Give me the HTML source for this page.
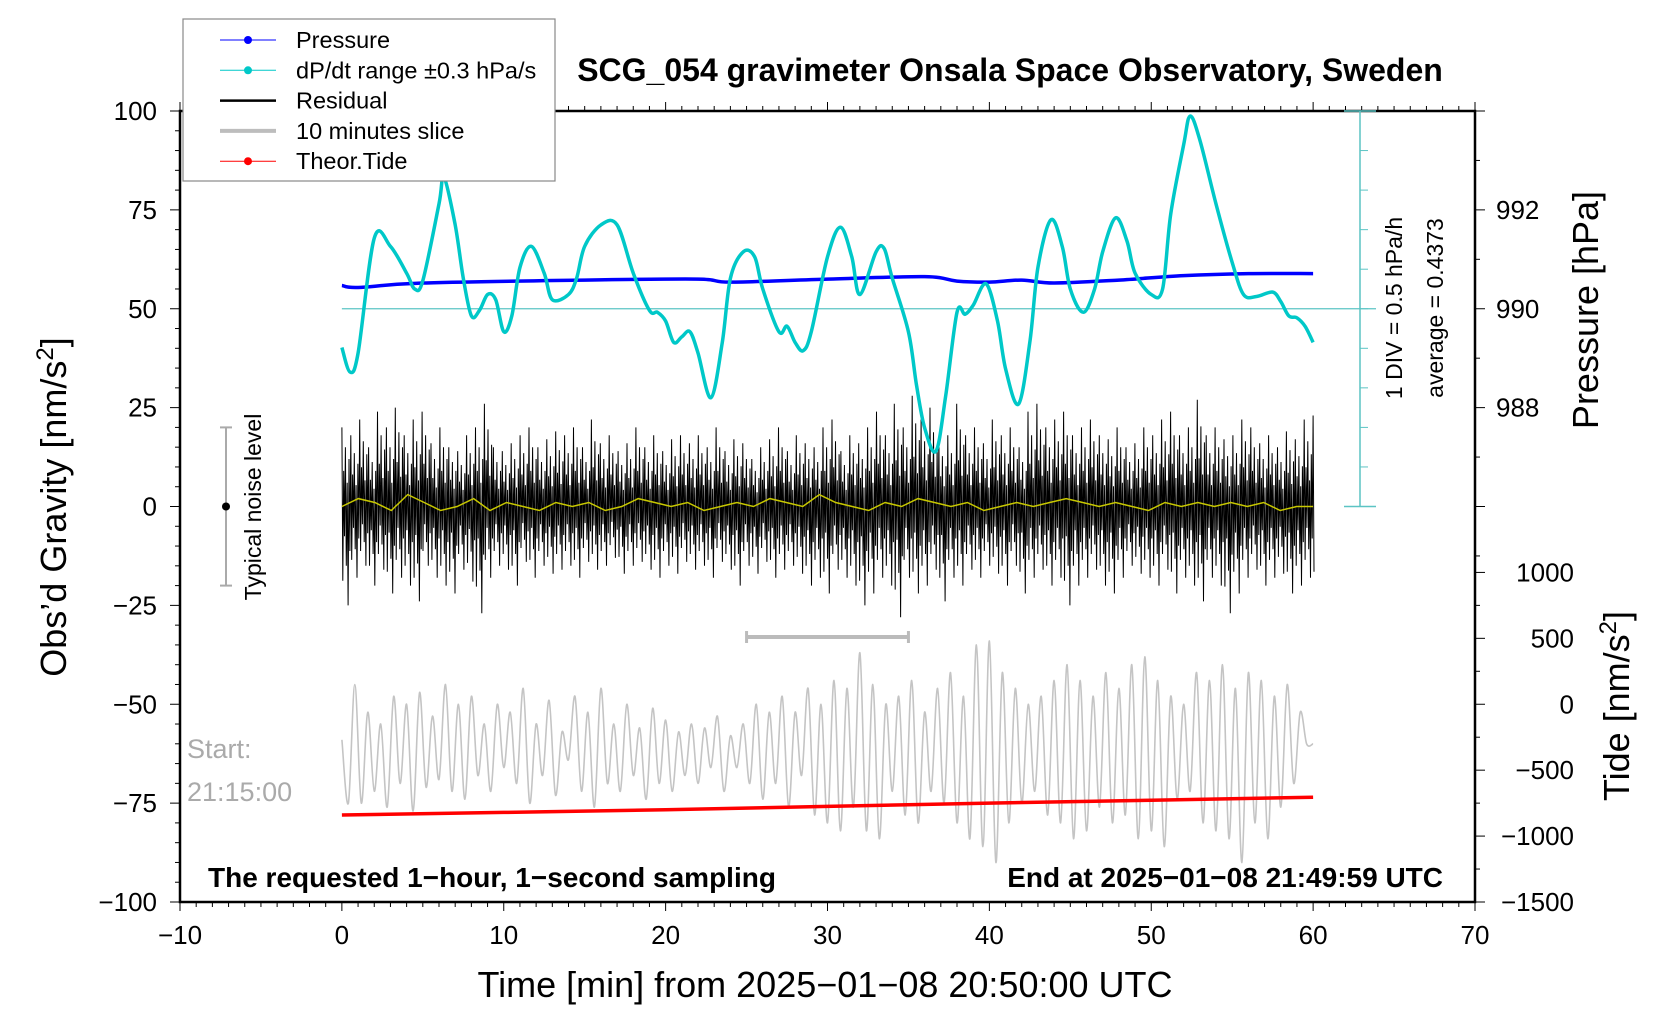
<!DOCTYPE html>
<html><head><meta charset="utf-8"><style>
html,body{margin:0;padding:0;background:#fff;}
svg{display:block;font-family:"Liberation Sans",sans-serif;}
</style></head><body>
<svg id="chart" width="1676" height="1020" viewBox="0 0 1676 1020" xmlns="http://www.w3.org/2000/svg">
<g id="axes"></g>
<g id="series"></g>
<g id="labels"></g>
</svg>
<script>
// ---- data ----
const xTicks = [-10,0,10,20,30,40,50,60,70];
const yTicks = [100,75,50,25,0,-25,-50,-75,-100];
const yTickLabels = ["100","75","50","25","0","\u221225","\u221250","\u221275","\u2212100"];
const pTicks = [992,990,988];
const tideTicks = [1000,500,0,-500,-1000,-1500];
const tideTickLabels = ["1000","500","0","\u2212500","\u22121000","\u22121500"];
const cyanMin = [0,0.5,1,2,3,4,4.5,5,6,6.3,7,7.5,8,8.5,9,9.5,10,10.5,11,11.7,12.5,13,14,14.5,15,16,17,18,19,19.5,20,20.5,21,21.5,22,22.8,23.5,24,24.8,25.5,26,27,27.5,28,28.5,29,30,30.8,31.5,32,33,33.5,34,35,35.5,36,36.7,37.3,38,38.5,39,39.8,40.5,41,41.8,42.5,43,43.8,44.5,45,45.8,46.5,47,47.8,48.5,49,50,50.7,51.2,52,52.4,53,54,55,55.7,56.5,57.5,58,58.5,59,59.5,60];
const cyanVal = [40.2,34,38.8,67.9,65.8,59,55,57.1,76.5,83.3,71.2,57.7,48.2,49.6,53.6,52.3,44.2,48.2,60.4,65.8,59,52.3,53.6,57.7,65.8,71.2,71.2,59,49.6,49.1,46.9,41.5,42.9,44.2,38.8,27.5,41.5,57.7,64.4,63.1,55,44.2,45.6,41.5,39.4,44.2,63.1,70.6,63.1,53.6,64.4,65.2,57.7,44.2,30.7,19.9,14,28,49.1,48.6,50.9,56.3,46.9,34.8,25.9,41.5,60.4,72.5,65.8,55,49.1,55,64.4,73,67.1,59,53.6,55,73.9,91.4,98.7,92.7,76.5,61.7,53.6,53.1,54.2,51.8,48.2,47.7,45.6,41.5];
const presMin = [0,1,5,15,22,24,30,36,38,40,42,44,48,52,56,60];
const presVal = [990.47,990.43,990.52,990.58,990.6,990.54,990.6,990.65,990.56,990.54,990.58,990.52,990.58,990.67,990.71,990.71];
const tideMin = [0,10,20,30,40,50,60];
const tideVal = [-840,-820,-800,-775,-750,-728,-705];
const resMax = [20,18,22,15,24,20,25,18,22,24,16,20,15,14,18,20,26,15,14,16,18,20,15,17,19,18,20,15,22,16,18,14,16,20,15,18,14,17,18,16,18,15,20,14,17,16,12,15,17,20,14,18,16,15,20,22,14,18,16,20,24,18,26,20,28,22,25,17,18,26,18,20,16,22,18,20,15,24,26,20,22,24,18,20,22,18,17,20,15,16,20,18,22,24,18,20,27,18,20,17,18,22,20,16,18,15,19,17,22,23];
const resMin = [-25,-18,-15,-20,-16,-22,-18,-20,-24,-15,-18,-20,-22,-16,-19,-27,-18,-15,-16,-20,-14,-18,-15,-17,-16,-15,-18,-14,-16,-15,-13,-17,-15,-14,-16,-18,-15,-17,-14,-16,-15,-18,-14,-16,-20,-15,-17,-14,-18,-16,-15,-17,-20,-18,-22,-16,-18,-20,-25,-22,-18,-20,-28,-18,-22,-20,-16,-24,-18,-20,-16,-18,-15,-17,-20,-15,-22,-18,-16,-20,-18,-25,-20,-18,-16,-20,-22,-18,-15,-17,-18,-20,-16,-22,-18,-20,-24,-18,-20,-27,-22,-18,-16,-20,-18,-17,-22,-20,-18,-22];
const yellowVal = [0,2,1,-1,3,1,-1,0,2,-1,1,0,-1,1,0,1,-1,0,2,1,0,1,-1,0,1,0,2,1,0,3,1,0,-1,1,0,2,1,0,1,-1,0,1,0,1,2,1,0,1,0,-1,1,0,1,0,1,0,1,-1,0,0];
const sliceVal = [-59,-75,-45,-75,-52,-72,-55,-76,-48,-70,-50,-77,-47,-71,-53,-69,-45,-72,-50,-74,-48,-68,-55,-72,-50,-66,-52,-70,-46,-75,-55,-68,-49,-73,-57,-64,-48,-72,-52,-76,-46,-70,-55,-72,-50,-68,-56,-74,-51,-70,
-54,-72,-57,-68,-55,-70,-56,-66,-53,-72,-58,-66,-55,-70,-50,-74,-52,-70,-48,-76,-52,-68,-46,-78,-50,-80,-44,-82,-46,-76,-37,-82,-45,-84,-50,-72,-48,-78,-44,-80,-52,-72,-46,-75,-42,-80,-48,-84,-35,-86,
-34,-90,-42,-80,-46,-75,-50,-72,-48,-78,-44,-80,-40,-84,-44,-82,-48,-76,-42,-80,-46,-78,-40,-84,-38,-82,-44,-86,-48,-74,-50,-72,-42,-80,-44,-82,-40,-84,-46,-90,-42,-80,-44,-84,-48,-76,-45,-70,-52,-60,-60];

// ---- scales ----
const X0=180, X1=1475, YT=111, YB=902;
const X = m => X0 + (m+10)*(X1-X0)/80;
const Y = g => YT + (100-g)*(YB-YT)/200;
const YP = p => Y(50 + (p-990)*12.5);
const YTide = t => Y(t/30 - 50);
const NS='http://www.w3.org/2000/svg';
function mk(parent, tag, attrs, text){
  const e=document.createElementNS(NS,tag);
  for(const k in attrs) e.setAttribute(k,attrs[k]);
  if(text!==undefined) e.textContent=text;
  document.getElementById(parent).appendChild(e);
  return e;
}
function pts(xs, ys){ return xs.map((x,i)=>x.toFixed(1)+','+ys[i].toFixed(1)).join(' '); }
function smooth(xs, ys){
  let d='M'+xs[0].toFixed(1)+','+ys[0].toFixed(1);
  for(let i=0;i<xs.length-1;i++){
    const x0=xs[Math.max(i-1,0)], y0=ys[Math.max(i-1,0)], x1=xs[i], y1=ys[i], x2=xs[i+1], y2=ys[i+1];
    const x3=xs[Math.min(i+2,xs.length-1)], y3=ys[Math.min(i+2,xs.length-1)];
    const c1x=x1+(x2-x0)/6, c1y=y1+(y2-y0)/6, c2x=x2-(x3-x1)/6, c2y=y2-(y3-y1)/6;
    d+=' C'+c1x.toFixed(1)+','+c1y.toFixed(1)+' '+c2x.toFixed(1)+','+c2y.toFixed(1)+' '+x2.toFixed(1)+','+y2.toFixed(1);
  }
  return d;
}

// ---- axes ----
let el;
el=mk('axes','rect',{x:X0,y:YT,width:X1-X0,height:YB-YT,fill:'none',stroke:'#000','stroke-width':2.5});
 
for(let m=-10;m<=70;m++){
  const big=m%10===0, x=X(m);
  el=mk('axes','line',{x1:x,x2:x,y1:YB,y2:YB+(big?9:5),stroke:'#000','stroke-width':1});
   
  el=mk('axes','line',{x1:x,x2:x,y1:YT,y2:YT-(big?9:5),stroke:'#000','stroke-width':1});
   
}
xTicks.forEach(v=>{
  el=mk('labels','text',{x:X(v),y:944,'font-size':26,'text-anchor':'middle'},v<0?'\u2212'+(-v):String(v));
   
});
for(let g=-100;g<=100;g+=5){
  const big=g%25===0;
  el=mk('axes','line',{x1:X0,x2:X0-(big?10:5),y1:Y(g),y2:Y(g),stroke:'#000','stroke-width':1});
   
}
yTicks.forEach((v,i)=>{
  el=mk('labels','text',{x:157,y:Y(v)+9,'font-size':26,'text-anchor':'end'},yTickLabels[i]);
   
});
for(let p=985;p<=994;p++){
  const y=YP(p); if(y<YT-1||y>YB) continue;
  el=mk('axes','line',{x1:X1,x2:X1+(p%2===0?10:5),y1:y,y2:y,stroke:'#000','stroke-width':1});
   
}
pTicks.forEach(v=>{
  el=mk('labels','text',{x:1496,y:YP(v)+9,'font-size':26},String(v));
   
});
for(let t=-1500;t<=1000;t+=250){
  el=mk('axes','line',{x1:X1,x2:X1+(t%500===0?10:5),y1:YTide(t),y2:YTide(t),stroke:'#000','stroke-width':1});
   
}
tideTicks.forEach((v,i)=>{
  el=mk('labels','text',{x:1574,y:YTide(v)+9,'font-size':26,'text-anchor':'end'},tideTickLabels[i]);
   
});

// ---- cyan scale ----
const CX=1360;
el=mk('axes','line',{x1:CX,x2:CX,y1:YT,y2:Y(0),stroke:'#5cc4c4','stroke-width':1.5});
 
[YT,Y(0)].forEach(y=>{
  el=mk('axes','line',{x1:CX-16,x2:CX+16,y1:y,y2:y,stroke:'#5cc4c4','stroke-width':1.5});
   
});
for(let g=10;g<100;g+=10){
  el=mk('axes','line',{x1:CX,x2:CX+8,y1:Y(g),y2:Y(g),stroke:'#5cc4c4','stroke-width':1});
   
}
el=mk('axes','line',{x1:X(0),x2:CX+16,y1:Y(50),y2:Y(50),stroke:'#5cc4c4','stroke-width':1.2});
 

// ---- series ----
el=mk('series','path',{d:smooth(sliceVal.map((v,i)=>X(i*60/(sliceVal.length-1))),sliceVal.map(Y)),fill:'none',stroke:'#c4c4c4','stroke-width':1.6});
 
const rFrac=[1,0.45,0.75,0.3,0.6];
const rx=[], ry=[];
const dm=60/(resMax.length-1);
resMax.forEach((v,i)=>{
  const m=i*dm;
  rFrac.forEach((f,k)=>{
    const mm=m+k*dm/rFrac.length; if(mm>60) return;
    const lo = resMin[i]*rFrac[(k+2)%rFrac.length];
    rx.push(X(mm)); ry.push(Y(v*f)); rx.push(X(mm+dm/rFrac.length/2)); ry.push(Y(lo));
  });
});
el=mk('series','polyline',{points:pts(rx,ry),fill:'none',stroke:'#000','stroke-width':1});
 
el=mk('series','polyline',{points:pts(yellowVal.map((v,i)=>X(i*60/(yellowVal.length-1))),yellowVal.map(Y)),fill:'none',stroke:'#c8c800','stroke-width':1.5});
 
el=mk('series','polyline',{points:pts(tideMin.map(X),tideVal.map(YTide)),fill:'none',stroke:'#ff0000','stroke-width':3.5});
 
el=mk('series','path',{d:smooth(presMin.map(X),presVal.map(YP)),fill:'none',stroke:'#0000ff','stroke-width':3.5});
 
el=mk('series','path',{d:smooth(cyanMin.map(X),cyanVal.map(Y)),fill:'none',stroke:'#00c8c8','stroke-width':3.5,'stroke-linejoin':'round'});
 

// noise indicator & slice bar
el=mk('series','line',{x1:226,x2:226,y1:Y(20),y2:Y(-20),stroke:'#aaa','stroke-width':2});
 
[20,-20].forEach(g=>{ el=mk('series','line',{x1:220,x2:232,y1:Y(g),y2:Y(g),stroke:'#aaa','stroke-width':2});
    });
el=mk('series','circle',{cx:226,cy:Y(0),r:4,fill:'#000'});
 
el=mk('series','line',{x1:X(25),x2:X(35),y1:Y(-33),y2:Y(-33),stroke:'#bbb','stroke-width':4});
 
[25,35].forEach(m=>{ el=mk('series','line',{x1:X(m),x2:X(m),y1:Y(-33)-6,y2:Y(-33)+6,stroke:'#bbb','stroke-width':3});
    });
</script>
<script>
// static labels
(function(){
  const NS='http://www.w3.org/2000/svg', L=document.getElementById('labels');
  function t(name,attrs,txt){const e=document.createElementNS(NS,'text');for(const k in attrs)e.setAttribute(k,attrs[k]);e.textContent=txt;
    L.appendChild(e);return e;}
  t('chart-title',{x:1010,y:81,'font-size':32,'font-weight':'bold','text-anchor':'middle'},'SCG_054 gravimeter Onsala Space Observatory, Sweden');
  t('x-axis-title',{x:825,y:997,'font-size':36,'text-anchor':'middle'},'Time [min] from 2025\u221201\u221208 20:50:00 UTC');
  const yl=t('y-axis-title',{x:0,y:0,'font-size':36,'text-anchor':'middle',transform:'translate(66,507) rotate(-90)'},'Obs\u2019d Gravity [nm/s');
  const s=document.createElementNS(NS,'tspan');s.setAttribute('dy','-13');s.setAttribute('font-size','24');s.textContent='2';yl.appendChild(s);
  const s2=document.createElementNS(NS,'tspan');s2.setAttribute('dy','13');s2.textContent=']';yl.appendChild(s2);
  t('pressure-axis-title',{x:0,y:0,'font-size':36,'text-anchor':'middle',transform:'translate(1598,310) rotate(-90)'},'Pressure [hPa]');
  const tl=t('tide-axis-title',{x:0,y:0,'font-size':36,'text-anchor':'middle',transform:'translate(1629,706) rotate(-90)'},'Tide [nm/s');
  const s3=document.createElementNS(NS,'tspan');s3.setAttribute('dy','-13');s3.setAttribute('font-size','24');s3.textContent='2';tl.appendChild(s3);
  const s4=document.createElementNS(NS,'tspan');s4.setAttribute('dy','13');s4.textContent=']';tl.appendChild(s4);
  t('dpdt-scale-label',{x:0,y:0,'font-size':23,'text-anchor':'middle',transform:'translate(1402,308) rotate(-90)'},'1 DIV = 0.5 hPa/h');
  t('dpdt-average-label',{x:0,y:0,'font-size':23,'text-anchor':'middle',transform:'translate(1443,308) rotate(-90)'},'average = 0.4373');
  t('noise-level-label',{x:0,y:0,'font-size':23,'text-anchor':'middle',transform:'translate(261,507) rotate(-90)'},'Typical noise level');
  t('start-label',{x:187,y:758,'font-size':27,fill:'#aaa'},'Start:');
  t('start-time-label',{x:187,y:801,'font-size':27,fill:'#aaa'},'21:15:00');
  t('sampling-note',{x:208,y:887,'font-size':28,'font-weight':'bold'},'The requested 1\u2212hour, 1\u2212second sampling');
  t('end-time-note',{x:1443,y:887,'font-size':28,'font-weight':'bold','text-anchor':'end'},'End at 2025\u221201\u221208 21:49:59 UTC');
  // legend
  const g=document.createElementNS(NS,'g');document.getElementById('chart').appendChild(g);
  const r=document.createElementNS(NS,'rect');
  [['x',183],['y',19],['width',372],['height',162],['fill','#fff'],['stroke','#888'],['stroke-width','1.2']].forEach(a=>r.setAttribute(a[0],a[1]));
  g.appendChild(r);
  const items=[['Pressure','#0000ff',1,true],['dP/dt range \u00b10.3 hPa/s','#00c8c8',1,true],['Residual','#000',2.5,false],['10 minutes slice','#bdbdbd',4,false],['Theor.Tide','#ff0000',1,true]];
  items.forEach((it,i)=>{
    const y=40+i*30.3;
    const ln=document.createElementNS(NS,'line');
    [['x1',220],['x2',276],['y1',y],['y2',y],['stroke',it[1]],['stroke-width',it[2]]].forEach(a=>ln.setAttribute(a[0],a[1]));
    g.appendChild(ln);
    if(it[3]){const c=document.createElementNS(NS,'circle');c.setAttribute('cx',248);c.setAttribute('cy',y);c.setAttribute('r',4);c.setAttribute('fill',it[1]);
      g.appendChild(c);}
    const tx=document.createElementNS(NS,'text');tx.setAttribute('x',296);tx.setAttribute('y',y+8);tx.setAttribute('font-size',23.5);tx.textContent=it[0];
    g.appendChild(tx);
  });
})();
</script>
</body></html>
